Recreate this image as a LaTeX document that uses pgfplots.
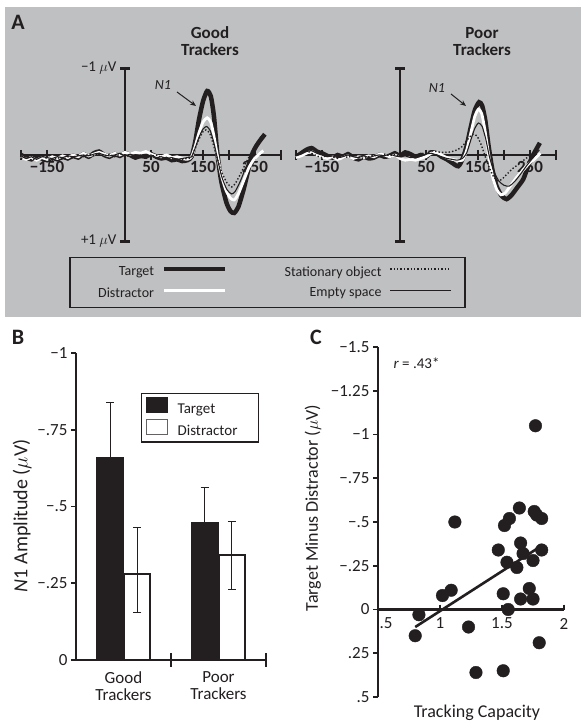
\documentclass[border=0pt]{standalone}
\usepackage{pgfplots}
\pgfplotsset{compat=1.18}
\usetikzlibrary{arrows.meta}
\usepackage{fontspec}
\setmainfont{Carlito}
\definecolor{ink}{HTML}{231F20}
\definecolor{panelgray}{RGB}{190,192,194}
\newcommand{\fs}[1]{\fontsize{#1}{#1}\selectfont}
\pgfplotsset{
  erp/.style={
    anchor=center, scale only axis, width=260pt, height=173pt,
    xmin=-200, xmax=300, ymin=-1, ymax=1, y dir=reverse, enlargelimits=false,
    axis lines=middle, axis line style={line width=2.8pt, ink, -},
    xtick={-150,50,150,250}, xticklabels={−150,50,150,250},
    extra x ticks={-200,200,300}, extra x tick labels={},
    ytick={-1,1},
    tick style={line width=2.8pt, ink}, major tick length=10pt, tick align=center,
    xticklabel style={font=\bfseries\fs{17}, ink, inner sep=1pt},
    yticklabel style={font=\fs{15}, ink},
    hide obscured x ticks=false, hide obscured y ticks=false,
    clip=false,
  },
  tgt/.style={ink, line width=4.5pt, smooth, tension=0.4},
  dis/.style={white, line width=2.8pt, smooth, tension=0.4},
  emp/.style={ink, line width=1.1pt, smooth, tension=0.4},
  sta/.style={ink, line width=1.4pt, dotted, smooth, tension=0.4},
}
\begin{document}
\begin{tikzpicture}[x=1pt,y=1pt]
\useasboundingbox (0,0) rectangle (587,728);
\fill[white] (0,0) rectangle (587,728);
\fill[panelgray] (5,411) rectangle (581,721);
\node[font=\bfseries\fs{22}, ink] at (18,706) {A};
\node[font=\bfseries\fs{22}, ink] at (18,391) {B};
\node[font=\bfseries\fs{22}, ink] at (316,391) {C};
\node[font=\bfseries\fs{17}, ink, align=center, inner sep=0pt] at (210,686.5) {\baselineskip=23pt Good\\Trackers};
\node[font=\bfseries\fs{17}, ink, align=center, inner sep=0pt] at (482,686.5) {\baselineskip=23pt Poor\\Trackers};

% ---------- A: Good trackers ----------
\begin{axis}[erp, at={(151pt,573pt)}, yticklabels={−1 $\mu$V, +1 $\mu$V}]
\addplot[tgt] coordinates {(-200,0.00)(-190,0.03)(-180,0.05)(-170,0.02)(-160,0.04)(-150,0.06)(-140,0.03)(-130,0.05)(-120,0.02)(-110,0.04)(-100,0.01)(-90,0.03)(-80,-0.01)(-70,0.02)(-60,-0.02)(-50,-0.04)(-40,0.00)(-30,0.02)(-20,-0.01)(-10,0.01)(0,-0.02)(10,0.00)(20,0.03)(30,0.01)(40,0.02)(50,-0.01)(60,0.02)(70,0.04)(80,0.03)(90,0.06)(100,0.05)(110,0.07)(120,0.06)(128,0.02)(135,-0.15)(142,-0.40)(150,-0.62)(158,-0.74)(165,-0.68)(171,-0.45)(177,-0.05)(185,0.30)(195,0.55)(203,0.65)(210,0.67)(218,0.60)(228,0.40)(236,0.20)(244,0.00)(252,-0.10)(260,-0.17)(269,-0.24)};
\addplot[dis] coordinates {(-200,0.02)(-190,0.05)(-180,0.03)(-170,0.06)(-160,0.03)(-150,0.05)(-140,0.02)(-130,0.04)(-120,0.01)(-110,0.03)(-100,0.00)(-90,0.02)(-80,-0.02)(-70,0.01)(-60,-0.01)(-50,-0.03)(-40,-0.01)(-30,0.01)(-20,-0.02)(-10,0.00)(0,-0.03)(10,-0.01)(20,-0.03)(30,-0.02)(40,-0.04)(50,-0.01)(60,0.01)(70,0.02)(80,0.00)(90,0.03)(100,0.02)(110,0.04)(120,0.05)(128,0.02)(135,-0.10)(142,-0.25)(150,-0.38)(158,-0.43)(165,-0.38)(171,-0.22)(178,0.02)(186,0.25)(195,0.42)(203,0.50)(210,0.52)(218,0.45)(228,0.30)(238,0.15)(248,0.05)(258,-0.01)(266,-0.05)};
\addplot[emp] coordinates {(-200,0.01)(-190,0.04)(-180,0.02)(-170,0.05)(-160,0.02)(-150,0.03)(-140,0.04)(-130,0.02)(-120,0.03)(-110,0.01)(-100,0.02)(-90,0.01)(-80,0.00)(-70,0.01)(-60,-0.01)(-50,-0.02)(-40,0.00)(-30,0.01)(-20,0.00)(-10,-0.02)(0,0.01)(10,-0.01)(20,0.01)(30,0.00)(40,0.02)(50,0.00)(60,0.03)(70,0.02)(80,0.04)(90,0.03)(100,0.05)(110,0.04)(120,0.03)(128,0.02)(135,-0.08)(142,-0.20)(150,-0.30)(157,-0.33)(164,-0.28)(171,-0.14)(178,0.05)(186,0.25)(196,0.40)(205,0.45)(212,0.42)(222,0.30)(232,0.15)(242,0.02)(252,-0.08)(263,-0.18)};
\addplot[sta] coordinates {(-200,0.04)(-190,0.02)(-180,0.06)(-170,0.03)(-160,0.01)(-150,0.04)(-140,0.06)(-130,0.03)(-120,0.05)(-110,0.02)(-100,0.03)(-90,0.00)(-80,0.02)(-70,-0.01)(-60,0.01)(-50,-0.02)(-40,0.01)(-30,-0.01)(-20,0.02)(-10,-0.01)(0,0.00)(10,0.02)(20,0.00)(30,0.03)(40,0.01)(50,0.02)(60,0.00)(70,0.03)(80,0.05)(90,0.04)(100,0.06)(110,0.05)(120,0.04)(128,0.03)(135,-0.08)(142,-0.18)(150,-0.27)(156,-0.29)(163,-0.25)(170,-0.12)(178,0.05)(186,0.20)(196,0.32)(205,0.37)(212,0.33)(222,0.22)(232,0.10)(242,-0.02)(252,-0.12)(262,-0.22)};
\end{axis}

% ---------- A: Poor trackers ----------
\begin{axis}[erp, at={(426pt,573pt)}, yticklabels={,}]
\addplot[tgt] coordinates {(-200,0.02)(-190,-0.02)(-180,-0.06)(-170,-0.08)(-160,-0.04)(-150,-0.02)(-140,0.01)(-130,0.03)(-120,0.00)(-110,0.02)(-100,-0.01)(-90,0.03)(-80,0.05)(-70,0.02)(-60,0.04)(-50,0.03)(-40,0.00)(-30,0.02)(-20,0.01)(-10,-0.02)(0,0.01)(10,-0.03)(20,-0.01)(30,0.02)(40,0.00)(50,0.02)(60,-0.03)(70,-0.02)(80,0.02)(90,0.05)(100,0.09)(112,0.13)(120,0.05)(128,-0.10)(136,-0.32)(144,-0.52)(152,-0.61)(158,-0.57)(164,-0.40)(170,-0.12)(177,0.15)(185,0.35)(195,0.47)(205,0.51)(215,0.46)(225,0.38)(237,0.28)(247,0.12)(257,-0.01)(269,-0.14)};
\addplot[dis] coordinates {(-200,0.03)(-190,0.01)(-180,-0.02)(-170,-0.04)(-160,0.00)(-150,0.02)(-140,0.04)(-130,0.02)(-120,0.05)(-110,0.03)(-100,0.01)(-90,0.04)(-80,0.02)(-70,0.03)(-60,0.01)(-50,0.02)(-40,-0.01)(-30,0.00)(-20,0.02)(-10,0.00)(0,0.04)(10,0.06)(20,0.05)(30,0.06)(40,0.04)(50,0.02)(60,-0.02)(70,-0.03)(80,0.00)(90,0.03)(100,0.05)(110,0.06)(120,0.06)(128,-0.05)(136,-0.25)(144,-0.45)(151,-0.53)(157,-0.48)(163,-0.30)(170,-0.02)(178,0.25)(186,0.40)(194,0.46)(202,0.44)(212,0.36)(224,0.26)(236,0.18)(248,0.10)(260,0.04)(270,-0.02)};
\addplot[emp] coordinates {(-200,0.01)(-190,-0.01)(-180,-0.04)(-170,-0.05)(-160,-0.02)(-150,0.00)(-140,0.02)(-130,0.01)(-120,0.03)(-110,0.02)(-100,0.00)(-90,0.02)(-80,0.03)(-70,0.01)(-60,0.03)(-50,0.01)(-40,0.00)(-30,0.01)(-20,-0.01)(-10,0.01)(0,0.02)(10,0.01)(20,0.03)(30,0.02)(40,0.01)(50,-0.01)(60,-0.02)(70,0.00)(80,0.02)(90,0.04)(100,0.05)(110,0.06)(120,0.04)(128,-0.02)(136,-0.17)(144,-0.31)(151,-0.37)(158,-0.33)(165,-0.18)(172,0.02)(180,0.18)(190,0.30)(200,0.35)(210,0.36)(220,0.31)(232,0.22)(244,0.12)(256,0.03)(268,-0.06)};
\addplot[sta] coordinates {(-200,0.00)(-190,-0.03)(-180,-0.05)(-170,-0.02)(-160,0.01)(-150,0.03)(-140,0.00)(-130,0.02)(-120,0.04)(-110,0.01)(-100,0.03)(-90,0.00)(-80,0.02)(-70,0.04)(-60,0.02)(-50,0.00)(-40,0.02)(-30,-0.01)(-20,0.01)(-10,-0.01)(0,0.02)(10,0.00)(20,-0.02)(30,0.01)(40,-0.01)(50,-0.03)(60,-0.05)(70,-0.04)(80,-0.03)(90,-0.03)(100,-0.04)(110,-0.06)(120,-0.10)(130,-0.18)(140,-0.24)(148,-0.22)(156,-0.12)(164,0.02)(172,0.15)(180,0.25)(188,0.30)(196,0.28)(206,0.22)(218,0.15)(230,0.10)(242,0.04)(252,0.00)(262,-0.05)};
\end{axis}

% N1 annotations
\node[font=\itshape\fs{14}, ink] at (163,643) {N1};
\draw[ink, line width=1pt, -{Stealth[length=6pt,width=5pt]}] (177,636) -- (196,622);
\node[font=\itshape\fs{14}, ink] at (437,640) {N1};
\draw[ink, line width=1pt, -{Stealth[length=6pt,width=5pt]}] (451,634) -- (466,622);

% ---------- A: legend ----------
\begin{axis}[at={(267.5pt,445.5pt)}, anchor=center, scale only axis, width=10pt, height=10pt,
  hide axis, xmin=0, xmax=1, ymin=0, ymax=1,
  legend columns=2, legend plot pos=right, legend cell align=right,
  legend image code/.code={\draw[#1] (0pt,3pt) -- (61pt,3pt);},
  legend style={at={(0.5,0.5)}, anchor=center, draw=ink, line width=1.3pt, fill=none,
    font=\fs{14}, text=ink, inner xsep=13pt, inner ysep=7pt,
    /tikz/column sep=6pt, /tikz/row sep=6pt}]
\addlegendimage{ink, line width=4.5pt}
\addlegendentry{\makebox[69pt][r]{Target}}
\addlegendimage{ink, line width=1.4pt, dotted}
\addlegendentry{\makebox[146pt][r]{Stationary object}}
\addlegendimage{white, line width=2.8pt}
\addlegendentry{\makebox[69pt][r]{Distractor}}
\addlegendimage{ink, line width=1.1pt}
\addlegendentry{\makebox[146pt][r]{Empty space}}
\end{axis}

% ---------- B: bar chart ----------
\begin{axis}[at={(171pt,221.5pt)}, anchor=center, scale only axis, width=190pt, height=307pt,
  xmin=-0.5, xmax=1.5, ymin=-1, ymax=0, y dir=reverse, enlargelimits=false,
  axis x line=middle, axis y line=left, axis line style={line width=2.6pt, ink, -},
  hide obscured x ticks=false, hide obscured y ticks=false,
  xtick={0,1}, xticklabels={Good\\Trackers, Poor\\Trackers},
  xticklabel style={align=center, font=\fs{17}, ink, text depth=0pt, yshift=-3pt},
  xtick style={draw=none},
  extra x ticks={0.5,1.5}, extra x tick labels={},
  extra x tick style={xtick style={draw=ink, line width=2.6pt}, major tick length=14pt, tick align=center},
  ytick={-1,-0.75,-0.5,-0.25,0}, yticklabels={−1,−.75,−.5,−.25,0},
  yticklabel style={font=\fs{17}, ink},
  ytick style={line width=1.8pt, ink}, major tick length=5pt, tick align=outside,
  ylabel={\textit{N}1 Amplitude ($\mu$V)},
  ylabel style={font=\fs{20}, ink, at={(axis description cs:-0.284,0.47)}, anchor=center, rotate=0},
  legend style={at={(axis description cs:0.342,0.87)}, anchor=north west, draw=ink, line width=1.3pt,
    font=\fs{15}, text=ink, inner xsep=4pt, inner ysep=3pt, /tikz/column sep=8pt, /tikz/row sep=2pt},
  legend cell align=left,
  clip=false]
\addplot[ybar, bar shift=0pt, bar width=26pt, fill=ink, draw=ink, line width=1.6pt,
  legend image code/.code={\draw[ink, fill=ink, line width=1pt] (0pt,-3pt) rectangle (21pt,12pt);},
  error bars/.cd, y dir=both, y explicit,
  error bar style={line width=1pt, ink}, error mark options={rotate=90, mark size=4pt, line width=1pt, ink}]
  coordinates {(-0.14,-0.66) +- (0,0.18) (0.855,-0.446) +- (0,0.115)};
\addlegendentry{\makebox[75pt][l]{Target}}
\addplot[ybar, bar shift=0pt, bar width=26pt, fill=white, draw=ink, line width=1.6pt,
  legend image code/.code={\draw[ink!70, fill=white, line width=1pt] (0pt,-3pt) rectangle (21pt,12pt);},
  error bars/.cd, y dir=both, y explicit,
  error bar style={line width=1pt, ink}, error mark options={rotate=90, mark size=4pt, line width=1pt, ink}]
  coordinates {(0.145,-0.28) += (0,0.124) -= (0,0.153) (1.14,-0.342) += (0,0.112) -= (0,0.108)};
\addlegendentry{\makebox[75pt][l]{Distractor}}
\end{axis}

% ---------- C: scatter ----------
\begin{axis}[at={(471pt,206pt)}, anchor=center, scale only axis, width=186pt, height=350pt,
  xmin=0.5, xmax=2, ymin=-1.5, ymax=0.5, y dir=reverse, enlargelimits=false,
  axis x line=middle, axis y line=left, axis line style={line width=2.6pt, ink, -},
  hide obscured x ticks=false, hide obscured y ticks=false,
  xtick={0.5,1,1.5,2}, xticklabels={\hspace*{16pt}.5,1,1.5,2},
  xticklabel style={font=\fs{17}, ink},
  xtick style={line width=2pt, ink},
  ytick={-1.5,-1.25,-1,-0.75,-0.5,-0.25,0,0.25,0.5},
  yticklabels={−1.5,−1.25,−1,−.75,−.5,−.25,0,.25,.5},
  yticklabel style={font=\fs{17}, ink},
  ytick style={line width=1.8pt, ink}, major tick length=5pt, tick align=outside,
  xlabel={Tracking Capacity},
  xlabel style={font=\fs{18}, ink, at={(axis description cs:0.532,-0.046)}, anchor=center},
  ylabel={Target Minus Distractor ($\mu$V)},
  ylabel style={font=\fs{18}, ink, at={(axis description cs:-0.35,0.54)}, anchor=center, rotate=0},
  clip=false]
\addplot[only marks, mark=*, mark size=6.3pt, ink] coordinates {
(0.80,0.15)(0.83,0.03)(1.02,-0.08)(1.09,-0.11)(1.12,-0.50)(1.23,0.10)(1.29,0.36)
(1.47,-0.34)(1.51,0.35)(1.51,-0.09)(1.52,-0.48)(1.56,-0.52)(1.54,-0.27)(1.55,0.00)
(1.64,-0.58)(1.65,-0.38)(1.62,-0.24)(1.65,-0.06)(1.67,-0.32)(1.75,-0.28)(1.72,-0.12)
(1.75,-0.06)(1.76,-0.56)(1.78,-0.54)(1.82,-0.52)(1.82,-0.34)(1.77,-1.05)(1.80,0.19)};
\addplot[ink, line width=2.6pt] coordinates {(0.80,0.10) (1.81,-0.36)};
\end{axis}
\node[font=\fs{15}, ink, anchor=west] at (390,365) {\textit{r} = .43*};
\end{tikzpicture}
\end{document}
